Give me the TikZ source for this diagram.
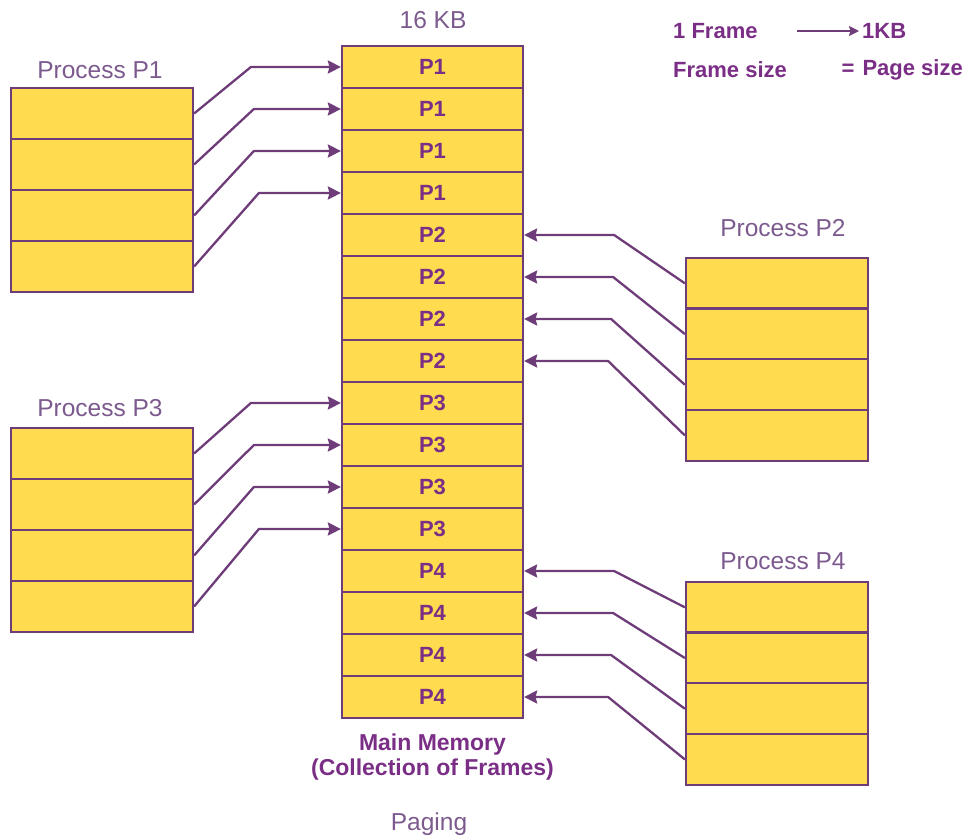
\documentclass[tikz,border=0pt]{standalone}
\usepackage{fontspec}
\setmainfont{Liberation Sans}
\usetikzlibrary{calc,arrows.meta}
\definecolor{fillY}{HTML}{FFDB4F}
\definecolor{edgeP}{HTML}{6E3C78}
\definecolor{txtP}{HTML}{7A2E85}
\definecolor{lblP}{HTML}{7C5A8E}
\begin{document}
\begin{tikzpicture}[x=1pt,y=-1pt,
  frame/.style={draw=edgeP,fill=fillY,line width=2.2pt,minimum width=181pt,minimum height=42pt,inner sep=0pt,text=txtP,font=\fontsize{22}{26}\selectfont\bfseries},
  prow/.style={draw=edgeP,fill=fillY,line width=2.2pt,minimum width=182pt,minimum height=51pt,inner sep=0pt},
  plabel/.style={text=lblP,font=\fontsize{24.5}{28}\selectfont,inner sep=0pt},
  btext/.style={text=txtP,font=\fontsize{23}{27}\selectfont\bfseries,inner sep=0pt},
  ltext/.style={text=txtP,font=\fontsize{22}{26}\selectfont\bfseries,inner sep=0pt},
  arr/.style={draw=edgeP,line width=2.3pt,-{Stealth[length=13pt,width=13pt,inset=1.5pt]}}
]
\useasboundingbox (0,0) rectangle (967,839);
% main memory frames
\foreach \i/\t in {1/P1,2/P1,3/P1,4/P1,5/P2,6/P2,7/P2,8/P2,9/P3,10/P3,11/P3,12/P3,13/P4,14/P4,15/P4,16/P4}{
  \node[frame] (f\i) at (432.5,{46+42*(\i-0.5)}) {\t};
}
% processes
\foreach \i in {1,2,3,4}{
  \node[prow] (a\i) at (102,{88+51*(\i-0.5)}) {};
  \node[prow] (c\i) at (102,{428+51*(\i-0.5)}) {};
  \node[prow] (b\i) at (777,{258+50.7*(\i-0.5)}) {};
  \node[prow] (d\i) at (777,{582+50.7*(\i-0.5)}) {};
}
% labels
\node[plabel] (l16) at (433,20) {16 KB};
\node[plabel] (lp1) at (100,70) {Process P1};
\node[plabel] (lp3) at (100,408) {Process P3};
\node[plabel] (lp2) at (783,228) {Process P2};
\node[plabel] (lp4) at (783,561) {Process P4};
\node[btext] (mm) at (432.5,745) {Main Memory};
\node[btext] (cf) at (432.5,770) {(Collection of Frames)};
\node[plabel] (pg) at (429,824) {Paging};
% legend
\node[ltext,anchor=west] (fr1) at (673,31) {1 Frame};
\node[ltext,anchor=west] (kb) at (862,31) {1KB};
\coordinate (la) at (797,31);
\draw[draw=edgeP,line width=1.8pt,-{Stealth[length=10pt,width=10pt,inset=1.5pt]}] (la) -- ($(kb.west)+(-3,0)$);
\node[ltext,anchor=west] (fs) at (673,70) {Frame size};
\node[ltext] (eq) at (848,70) {=};
\node[ltext,anchor=east] (ps) at (963,70) {Page size};
% arrows P1
\draw[arr] (a1.east) -- ($(f1.west)+(-90,0)$) -- (f1.west);
\draw[arr] (a2.east) -- ($(f2.west)+(-87,0)$) -- (f2.west);
\draw[arr] (a3.east) -- ($(f3.west)+(-87,0)$) -- (f3.west);
\draw[arr] (a4.east) -- ($(f4.west)+(-82,0)$) -- (f4.west);
% arrows P3
\draw[arr] (c1.east) -- ($(f9.west)+(-90,0)$) -- (f9.west);
\draw[arr] (c2.east) -- ($(f10.west)+(-87,0)$) -- (f10.west);
\draw[arr] (c3.east) -- ($(f11.west)+(-87,0)$) -- (f11.west);
\draw[arr] (c4.east) -- ($(f12.west)+(-82,0)$) -- (f12.west);
% arrows P2
\draw[arr] (b1.west) -- ($(f5.east)+(90,0)$) -- (f5.east);
\draw[arr] (b2.west) -- ($(f6.east)+(89,0)$) -- (f6.east);
\draw[arr] (b3.west) -- ($(f7.east)+(87,0)$) -- (f7.east);
\draw[arr] (b4.west) -- ($(f8.east)+(84,0)$) -- (f8.east);
% arrows P4
\draw[arr] (d1.west) -- ($(f13.east)+(90,0)$) -- (f13.east);
\draw[arr] (d2.west) -- ($(f14.east)+(89,0)$) -- (f14.east);
\draw[arr] (d3.west) -- ($(f15.east)+(87,0)$) -- (f15.east);
\draw[arr] (d4.west) -- ($(f16.east)+(84,0)$) -- (f16.east);
\end{tikzpicture}
\end{document}
